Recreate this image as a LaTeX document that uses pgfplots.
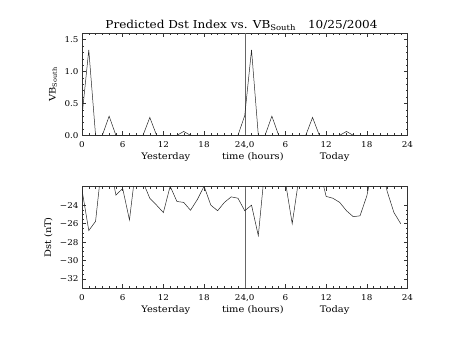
\documentclass[border=0pt]{standalone}
\usepackage{fontspec}
\setmainfont{DejaVu Serif}[FakeStretch=1.1]
\usepackage{pgfplots}
\pgfplotsset{compat=1.18}
\pgfplotstableread{
h v
0 0.30
1 1.34
2 0
3 0
4 0.30
5 0
6 0
7 0
8 0
9 0
10 0.28
11 0
12 0
13 0
14 0
15 0.06
16 0
17 0
18 0
19 0
20 0
21 0
22 0
23 0
24 0.31
25 1.34
26 0
27 0
28 0.30
29 0
30 0
31 0
32 0
33 0
34 0.28
35 0
36 0
37 0
38 0
39 0.06
40 0
41 0
42 0
43 0
44 0
45 0
46 0
47 0
}\vbdata
\pgfplotstableread{
h v
0 -22.35
1 -26.75
2 -25.75
3 -19.0
4 -19.2
5 -22.9
6 -22.2
7 -25.6
8 -19.5
9 -21.5
10 -23.25
11 -24.0
12 -24.8
13 -21.95
14 -23.6
15 -23.7
16 -24.55
17 -23.4
18 -21.95
19 -24.0
20 -24.6
21 -23.7
22 -23.1
23 -23.25
24 -24.6
25 -24.0
26 -27.3
27 -19.7
28 -19.7
29 -19.5
30 -21.5
31 -26.0
32 -21.0
33 -20.0
34 -20.0
35 -20.0
36 -23.05
37 -23.25
38 -23.7
39 -24.6
40 -25.25
41 -25.15
42 -23.0
43 -19.5
44 -19.2
45 -22.5
46 -24.8
47 -26.0
}\dstdata
\begin{document}
\begin{tikzpicture}
\useasboundingbox (0,0) rectangle (453bp,340bp);
\pgfplotsset{
 common/.style={
  scale only axis, width=325.5bp, anchor=south west,
  xmin=0, xmax=48, xtick={0,6,...,48},
  xticklabels={0,6,12,18,{24,0},6,12,18,24},
  minor x tick num=5,
  major tick length=4bp, minor tick length=2bp,
  tick style={black!80, line width=0.4pt},
  axis line style={black!80, line width=0.5pt},
  tick label style={font=\fontsize{8}{9}\selectfont},
  /pgf/number format/assume math mode=true,
  clip mode=individual,
  xticklabel style={yshift=-3bp},
  label style={font=\fontsize{9}{10}\selectfont},
 },
}
\begin{axis}[common,
  at={(82bp,204.7bp)}, height=102bp,
  ymin=0, ymax=1.6,
  ytick={0,0.5,1,1.5}, yticklabels={0.0,0.5,1.0,1.5},
  minor y tick num=4,
  ylabel={VB\textsubscript{South}},
  ylabel style={at={(axis description cs:-0.089,0.5)}, anchor=center},
]
\addplot[black!60, line width=0.4pt] coordinates {(24,0) (24,1.6)};
\addplot[black!85, line width=0.5pt] table[x=h, y=v] {\vbdata};
\node[anchor=base, font=\fontsize{11}{12}\selectfont, yshift=5bp] at (axis description cs:0.49,1) {Predicted Dst Index vs. VB\textsubscript{South}\hspace{1.1em}10/25/2004};
\node[anchor=base, font=\fontsize{9}{10}\selectfont, yshift=-24bp] at (axis description cs:0.2575,0) {Yesterday};
\node[anchor=base, font=\fontsize{9}{10}\selectfont, yshift=-24bp] at (axis description cs:0.525,0) {time (hours)};
\node[anchor=base, font=\fontsize{9}{10}\selectfont, yshift=-24bp] at (axis description cs:0.776,0) {Today};
\end{axis}
\begin{axis}[common,
  at={(82bp,51.7bp)}, height=101.6bp,
  ymin=-33, ymax=-22,
  ytick={-32,-30,-28,-26,-24}, yticklabels={−32,−30,−28,−26,−24},
  minor y tick num=3,
  ylabel={Dst (nT)},
  ylabel style={at={(axis description cs:-0.1035,0.5)}, anchor=center},
]
\addplot[black!60, line width=0.4pt] coordinates {(24,-33) (24,-22)};
\addplot[black!85, line width=0.5pt] table[x=h, y=v] {\dstdata};
\node[anchor=base, font=\fontsize{9}{10}\selectfont, yshift=-24bp] at (axis description cs:0.2575,0) {Yesterday};
\node[anchor=base, font=\fontsize{9}{10}\selectfont, yshift=-24bp] at (axis description cs:0.525,0) {time (hours)};
\node[anchor=base, font=\fontsize{9}{10}\selectfont, yshift=-24bp] at (axis description cs:0.776,0) {Today};
\end{axis}
\end{tikzpicture}
\end{document}
